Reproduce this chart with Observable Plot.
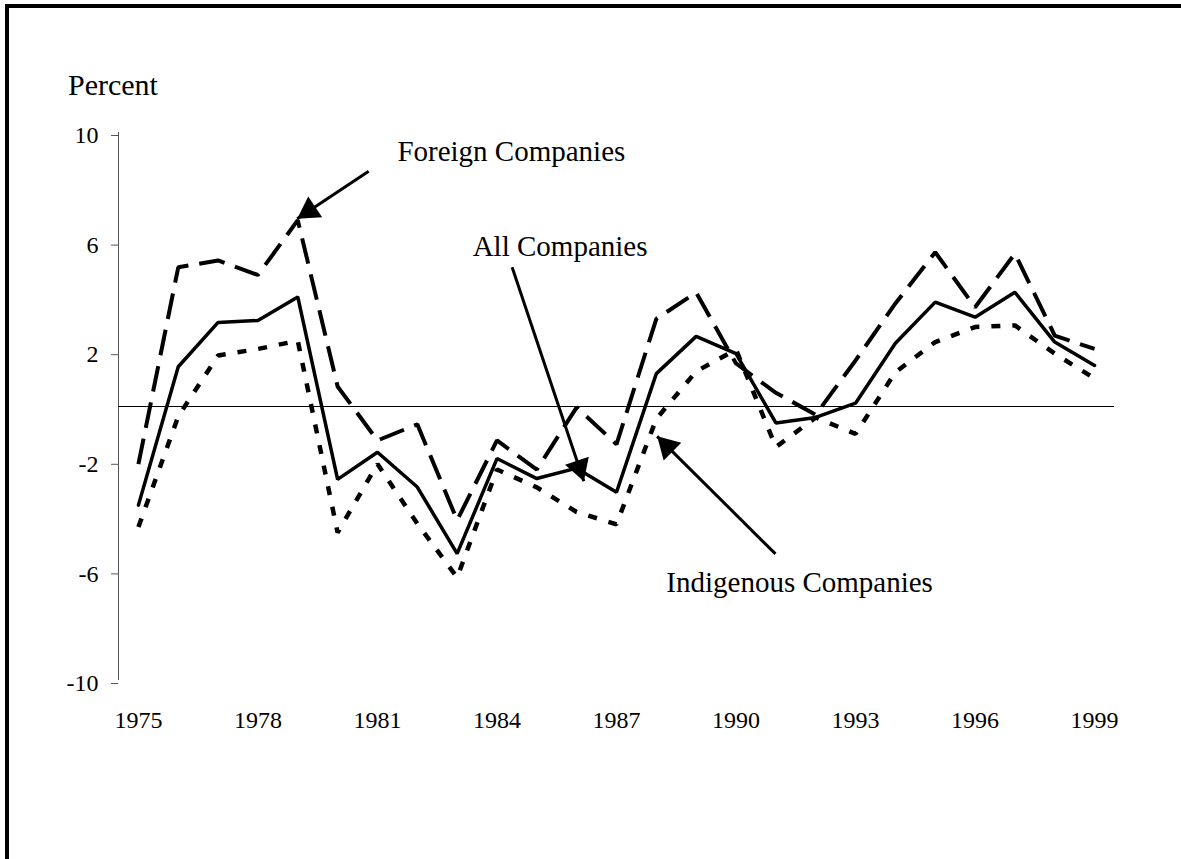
<!DOCTYPE html>
<html><head><meta charset="utf-8">
<script src="https://cdn.jsdelivr.net/npm/d3@7"></script>
<script src="https://cdn.jsdelivr.net/npm/@observablehq/plot@0.6"></script>
<style>
html,body{margin:0;padding:0;background:#fff;overflow:hidden;width:1181px;height:859px;}
#frame{position:absolute;left:5px;top:4px;width:1300px;height:1000px;border-top:4px solid #000;border-left:4px solid #000;box-sizing:border-box;}
#ylabel{position:absolute;left:68px;top:70px;font-family:"Liberation Serif","Times New Roman",serif;font-size:30px;line-height:1;color:#000;}
#chart{position:absolute;left:0;top:0;}
</style></head><body>
<div id="frame"></div>
<div id="ylabel">Percent</div>
<div id="chart"></div>
<script>
// ---- data ----
const years = [1975,1976,1977,1978,1979,1980,1981,1982,1983,1984,1985,1986,1987,1988,1989,1990,1991,1992,1993,1994,1995,1996,1997,1998,1999];
const allCompanies = [-3.6,1.45,3.07,3.14,4.0,-2.66,-1.67,-2.94,-5.37,-1.9,-2.63,-2.25,-3.13,1.2,2.56,1.93,-0.6,-0.4,0.12,2.31,3.81,3.26,4.17,2.35,1.5];
const foreignCompanies = [-2.1,5.08,5.33,4.8,6.8,0.73,-1.24,-0.65,-4.15,-1.24,-2.3,-0.03,-1.38,3.2,4.16,1.57,0.5,-0.3,1.68,3.76,5.63,3.62,5.58,2.59,2.1];
const indigenousCompanies = [-4.4,-0.36,1.86,2.1,2.4,-4.6,-2.1,-4.27,-6.24,-2.3,-2.95,-3.85,-4.3,-0.45,1.28,2.08,-1.48,-0.4,-1.0,1.25,2.35,2.9,2.96,1.93,1.02];
const xTicks = [1975,1978,1981,1984,1987,1990,1993,1996,1999];
const yTicks = [-10,-6,-2,2,6,10];
const xDomain = [1974.5, 1999.5];
const yDomain = [-10, 10];
// annotations (data units: year, percent)
const labelNames = ["Foreign Companies","All Companies","Indigenous Companies"];
const labelX = [1981.5, 1983.39, 1988.25];
const labelY = [9.29, 5.83, -6.44];
const arrowTailX = [1980.78, 1984.38, 1990.99];
const arrowTailY = [8.59, 5.08, -5.38];
const arrowTipX = [1978.985, 1986.18, 1988.02];
const arrowTipY = [6.85, -2.73, -1.09];

const rows = [];
years.forEach((yr, i) => {
  rows.push({year: yr, value: allCompanies[i], series: "All"});
  rows.push({year: yr, value: foreignCompanies[i], series: "Foreign"});
  rows.push({year: yr, value: indigenousCompanies[i], series: "Indigenous"});
});
const labels = labelNames.map((t, i) => ({label: t, x: labelX[i], y: labelY[i]}));
const arrows = labelNames.map((t, i) => ({x1: arrowTailX[i], y1: arrowTailY[i], x2: arrowTipX[i], y2: arrowTipY[i]}));

const serif = '"Liberation Serif","Times New Roman",serif';
const headSide = 25;
const headR = Math.sqrt((Math.sqrt(3) / 4) * headSide * headSide / Math.PI);

function makePlot(heads) {
  return Plot.plot({
    width: 1181,
    height: 760,
    marginLeft: 118,
    marginRight: 67,
    marginTop: 132,
    marginBottom: 80,
    style: {fontFamily: serif, fontSize: "24px", background: "transparent", color: "#000"},
    x: {domain: xDomain, label: null},
    y: {domain: yDomain, label: null},
    marks: [
      Plot.ruleX([xDomain[0]], {y1: yDomain[0], y2: yDomain[1], stroke: "#555", strokeWidth: 1}),
      Plot.ruleY([0], {stroke: "#000", strokeWidth: 1}),
      Plot.axisY({ticks: yTicks, tickSize: 7, tickPadding: 13, tickFormat: d => String(d), label: null, stroke: "#555", dy: 3}),
      Plot.axisX({ticks: xTicks, tickSize: 0, tickPadding: 30, tickFormat: d => String(d), label: null}),
      Plot.line(rows.filter(d => d.series === "Indigenous"), {x: "year", y: "value", stroke: "#000", strokeWidth: 4.5, strokeDasharray: "9,12", strokeLinecap: "butt", strokeLinejoin: "miter"}),
      Plot.line(rows.filter(d => d.series === "Foreign"), {x: "year", y: "value", stroke: "#000", strokeWidth: 4, strokeDasharray: "26,11", strokeLinecap: "butt", strokeLinejoin: "miter"}),
      Plot.line(rows.filter(d => d.series === "All"), {x: "year", y: "value", stroke: "#000", strokeWidth: 3.5, strokeLinejoin: "miter"}),
      Plot.link(arrows, {x1: "x1", y1: "y1", x2: "x2", y2: "y2", stroke: "#000", strokeWidth: 3}),
      Plot.dot(heads, {x: "x", y: "y", symbol: "triangle", r: headR, rotate: "angle", fill: "#000", stroke: "none"}),
      Plot.text(labels, {x: "x", y: "y", text: "label", textAnchor: "start", fontSize: 29, fill: "#000"})
    ]
  });
}

const probe = makePlot([]);
const sx = probe.scale("x"), sy = probe.scale("y");
const X = d3.scaleLinear(sx.domain, sx.range);
const Y = d3.scaleLinear(sy.domain, sy.range);
const heads = arrows.map(a => {
  const tx = X(a.x2), ty = Y(a.y2);
  const dx = tx - X(a.x1), dy = ty - Y(a.y1);
  const len = Math.hypot(dx, dy);
  const ux = dx / len, uy = dy / len;
  const back = headSide / Math.sqrt(3);
  const cx = tx - ux * back, cy = ty - uy * back;
  return {x: X.invert(cx), y: Y.invert(cy), angle: Math.atan2(dx, -dy) * 180 / Math.PI};
});
document.getElementById("chart").appendChild(makePlot(heads));
</script>
</body></html>
